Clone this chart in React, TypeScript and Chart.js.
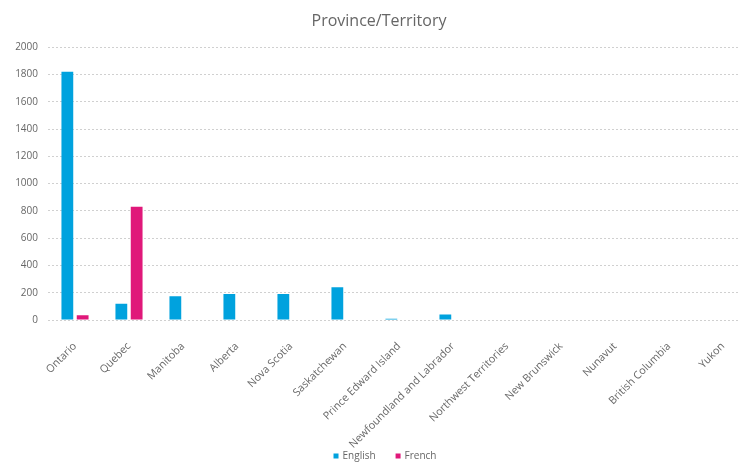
import React, { useEffect, useRef } from "react";
import { Chart, registerables } from "chart.js";

Chart.register(...registerables);

const categories = [
  "Ontario",
  "Quebec",
  "Manitoba",
  "Alberta",
  "Nova Scotia",
  "Saskatchewan",
  "Prince Edward Island",
  "Newfoundland and Labrador",
  "Northwest Territories",
  "New Brunswick",
  "Nunavut",
  "British Columbia",
  "Yukon",
];
const englishValues = [1820, 120, 175, 190, 190, 240, 10, 40, 0, 0, 0, 0, 0];
const frenchValues = [35, 830, 0, 0, 0, 0, 0, 0, 0, 0, 0, 0, 0];
const chartTitle = "Province/Territory";

const W = 770;
const H = 467;
const FONT = "'Open Sans', 'DejaVu Sans', sans-serif";

const bottomLegend = {
  id: "bottomLegend",
  afterDraw: (c: any) => {
    const ctx = c.ctx;
    ctx.save();
    ctx.font = `10px ${FONT}`;
    ctx.textBaseline = "middle";
    ctx.textAlign = "left";
    const box = 5;
    const gapBoxText = 4;
    const gapItems = 20;
    const items = c.data.datasets.map((d: any) => ({
      label: d.label,
      color: d.backgroundColor,
      w: box + gapBoxText + ctx.measureText(d.label).width,
    }));
    const total = items.reduce((s: number, it: any) => s + it.w, 0) + gapItems * (items.length - 1);
    let x = W / 2 - total / 2;
    const y = 456;
    items.forEach((it: any) => {
      ctx.fillStyle = it.color;
      ctx.fillRect(x, y - box / 2, box, box);
      ctx.fillStyle = "#666666";
      ctx.fillText(it.label, x + box + gapBoxText, y);
      x += it.w + gapItems;
    });
    ctx.restore();
  },
};

export default function App() {
  const ref = useRef<HTMLCanvasElement | null>(null);
  useEffect(() => {
    if (!ref.current) return;
    const chart = new Chart(ref.current, {
      type: "bar",
      data: {
        labels: categories,
        datasets: [
          { label: "English", data: englishValues, backgroundColor: "#00a2de" },
          { label: "French", data: frenchValues, backgroundColor: "#e0187a" },
        ],
      },
      options: {
        animation: false,
        responsive: false,
        maintainAspectRatio: false,
        layout: { padding: { left: 8, right: 20, top: 0, bottom: 0 } },
        datasets: {
          bar: { categoryPercentage: 0.567, barPercentage: 0.77 },
        },
        plugins: {
          title: {
            display: true,
            text: chartTitle,
            color: "#666666",
            font: { family: FONT, size: 16, weight: "normal" },
            padding: { top: 12, bottom: 16 },
          },
          legend: { display: false },
          tooltip: { enabled: false },
        },
        scales: {
          x: {
            grid: { display: false },
            border: { display: false },
            ticks: {
              color: "#666666",
              font: { family: FONT, size: 10.7 },
              minRotation: 45,
              maxRotation: 45,
              autoSkip: false,
              padding: 12,
            },
            afterFit: (scale: any) => {
              scale.height = 147;
            },
          },
          y: {
            min: 0,
            max: 2000,
            border: { display: false, dash: [2, 2] },
            grid: { color: "#d0d0d0", tickLength: 0, drawTicks: false },
            ticks: {
              stepSize: 200,
              color: "#666666",
              font: { family: FONT, size: 10 },
              padding: 10,
              callback: (v: any) => String(v),
            },
            afterFit: (scale: any) => {
              scale.width = 40;
            },
          },
        },
      } as any,
      plugins: [bottomLegend],
    });
    return () => chart.destroy();
  }, []);
  return (
    <div style={{ position: "fixed", left: 0, top: 0, width: 738, height: H, overflow: "hidden", background: "#fff" }}>
      <canvas ref={ref} width={W} height={H} style={{ width: W, height: H, display: "block" }} />
    </div>
  );
}
